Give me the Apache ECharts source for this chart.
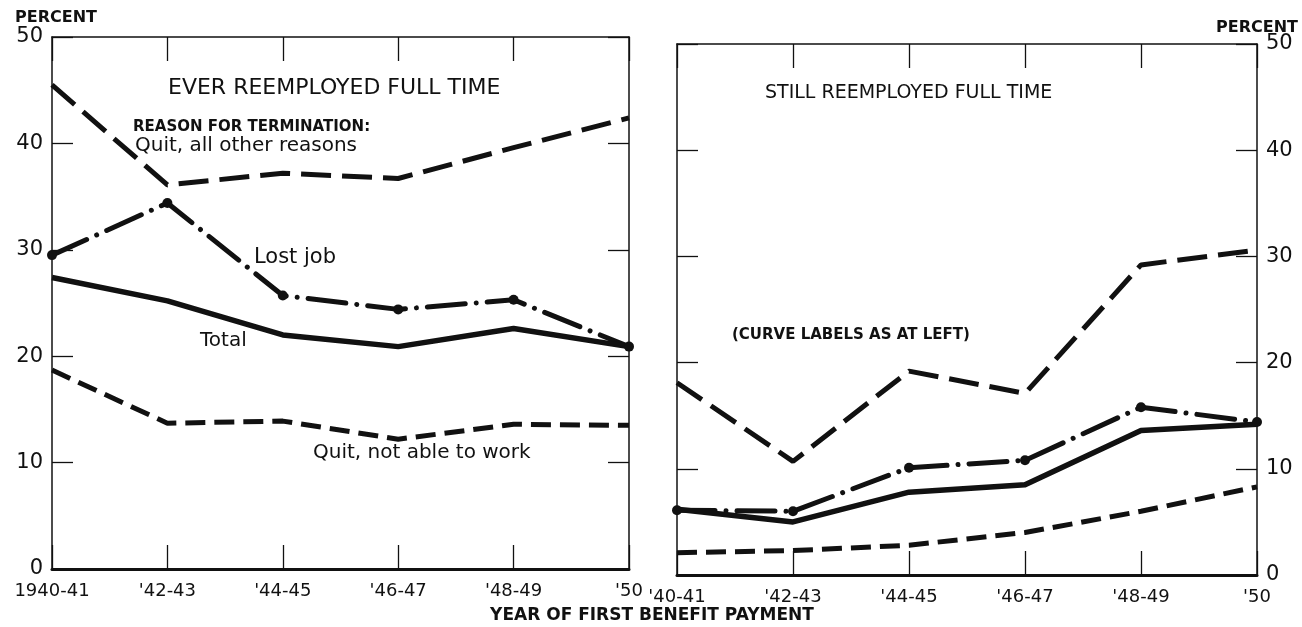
<!DOCTYPE html>
<html>
<head>
<meta charset="utf-8">
<script src="https://cdn.jsdelivr.net/npm/echarts@6/dist/echarts.min.js"></script>
<style>
html,body{margin:0;padding:0;background:#fff;}
#chart{width:1302px;height:627px;}
</style>
</head>
<body>
<div id="chart"></div>
<script>
// ---- data ----
const catsLeft = ["1940-41", "'42-43", "'44-45", "'46-47", "'48-49", "'50"];
const catsRight = ["'40-41", "'42-43", "'44-45", "'46-47", "'48-49", "'50"];
const yTicks = [0, 10, 20, 30, 40, 50];

// Ever reemployed full time (left)
const everQuitOther   = [45.5, 36.1, 37.2, 36.7, 39.6, 42.4];
const everLostJob     = [29.5, 34.4, 25.7, 24.4, 25.3, 20.9];
const everTotal       = [27.4, 25.2, 22.0, 20.9, 22.6, 20.9];
const everQuitNotAble = [18.7, 13.7, 13.9, 12.2, 13.6, 13.5];

// Still reemployed full time (right)
const stillQuitOther   = [18.1, 10.7, 19.2, 17.1, 29.2, 30.6];
const stillLostJob     = [6.1, 6.0, 10.1, 10.8, 15.8, 14.4];
const stillTotal       = [6.2, 5.0, 7.8, 8.5, 13.6, 14.2];
const stillQuitNotAble = [2.1, 2.3, 2.8, 4.0, 6.0, 8.3];

const FONT = "DejaVu Sans";
const INK = "#111";

function xAxes(grid, cats) {
  return [
    { type: 'category', gridIndex: grid, position: 'bottom', data: cats, boundaryGap: false,
      axisLine: { show: true, onZero: false, lineStyle: { color: INK, width: 3 } },
      axisTick: { show: true, inside: true, length: 24, interval: 0, lineStyle: { color: INK, width: 1.3 } },
      axisLabel: { show: true, interval: 0, margin: 13, color: INK, fontFamily: FONT, fontSize: 18 },
      splitLine: { show: false } },
    { type: 'category', gridIndex: grid, position: 'top', data: cats, boundaryGap: false,
      axisLine: { show: true, onZero: false, lineStyle: { color: INK, width: 1.5 } },
      axisTick: { show: true, inside: true, length: 24, interval: 0, lineStyle: { color: INK, width: 1.3 } },
      axisLabel: { show: false }, splitLine: { show: false } }
  ];
}
function yAxis(grid, pos, showLabel) {
  return { type: 'value', gridIndex: grid, position: pos, min: yTicks[0], max: yTicks[yTicks.length-1], interval: 10,
    axisLine: { show: true, onZero: false, lineStyle: { color: INK, width: 1.5 } },
    axisTick: { show: true, inside: true, length: 21, lineStyle: { color: INK, width: 1.3 } },
    axisLabel: { show: showLabel, margin: 9, color: INK, fontFamily: FONT, fontSize: 21 },
    splitLine: { show: false } };
}

const styles = {
  quitOther: { color: INK, width: 5, type: [30, 11], cap: 'butt' },
  lostJob:   { color: INK, width: 5, type: [38, 11, 0.01, 11], cap: 'round' },
  total:     { color: INK, width: 5.5, type: 'solid', join: 'round' },
  quitNot:   { color: INK, width: 5, type: [20, 9], cap: 'butt' }
};
function line(name, data, xi, yi, st, dots) {
  return { name: name, type: 'line', xAxisIndex: xi, yAxisIndex: yi, data: data,
    showSymbol: !!dots, symbol: 'circle', symbolSize: dots ? 10 : 0,
    itemStyle: { color: INK }, lineStyle: st, animation: false, silent: true };
}

function txt(x, y, s, size, opts) {
  opts = opts || {};
  return { type: 'text', x: x, y: y, silent: true,
    style: { text: s, fill: INK, font: (opts.bold ? 'bold ' : '') + size + 'px "' + FONT + '"',
      textAlign: opts.align || 'left', textVerticalAlign: 'middle' } };
}

const chart = echarts.init(document.getElementById('chart'), null, { renderer: 'canvas' });
chart.setOption({
  backgroundColor: '#fff',
  animation: false,
  grid: [
    { left: 52, top: 37, width: 577, height: 532 },
    { left: 677, top: 44, width: 580, height: 531 }
  ],
  xAxis: [].concat(xAxes(0, catsLeft), xAxes(1, catsRight)),
  yAxis: [yAxis(0, 'left', true), yAxis(0, 'right', false), yAxis(1, 'left', false), yAxis(1, 'right', true)],
  series: [
    line('Quit, all other reasons', everQuitOther, 0, 0, styles.quitOther),
    line('Lost job', everLostJob, 0, 0, styles.lostJob, true),
    line('Total', everTotal, 0, 0, styles.total),
    line('Quit, not able to work', everQuitNotAble, 0, 0, styles.quitNot),
    line('Quit, all other reasons', stillQuitOther, 2, 2, styles.quitOther),
    line('Lost job', stillLostJob, 2, 2, styles.lostJob, true),
    line('Total', stillTotal, 2, 2, styles.total),
    line('Quit, not able to work', stillQuitNotAble, 2, 2, styles.quitNot)
  ],
  graphic: [
    txt(15, 18, 'PERCENT', 16, { bold: true }),
    txt(1298, 28, 'PERCENT', 16, { bold: true, align: 'right' }),
    txt(168, 88, 'EVER REEMPLOYED FULL TIME', 22),
    txt(133, 127, 'REASON FOR TERMINATION:', 15, { bold: true }),
    txt(135, 146, 'Quit, all other reasons', 20),
    txt(254, 258, 'Lost job', 21),
    txt(200, 341, 'Total', 20),
    txt(313, 453, 'Quit, not able to work', 20),
    txt(765, 93, 'STILL REEMPLOYED FULL TIME', 19),
    txt(732, 335, '(CURVE LABELS AS AT LEFT)', 15, { bold: true }),
    txt(652, 616, 'YEAR OF FIRST BENEFIT PAYMENT', 17, { bold: true, align: 'center' })
  ]
});
</script>
</body>
</html>
